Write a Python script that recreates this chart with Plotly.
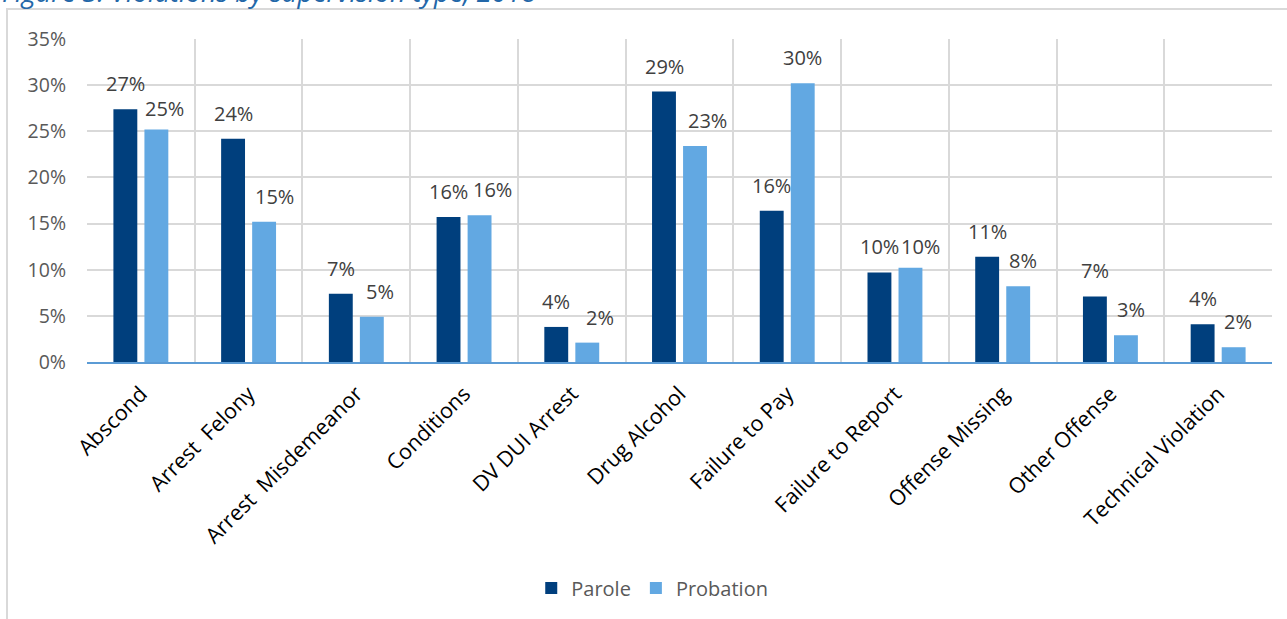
import plotly.graph_objects as go

# Violations by supervision type, share of each group's violations
categories = [
    "Abscond", "Arrest  Felony", "Arrest  Misdemeanor", "Conditions",
    "DV DUI Arrest", "Drug Alcohol", "Failure to Pay", "Failure to Report",
    "Offense Missing", "Other Offense", "Technical Violation",
]
parole = [0.274, 0.242, 0.074, 0.157, 0.038, 0.293, 0.164, 0.097, 0.114, 0.071, 0.041]
probation = [0.252, 0.152, 0.049, 0.159, 0.021, 0.234, 0.302, 0.102, 0.082, 0.029, 0.016]

PAROLE_COLOR = "#003F7D"
PROBATION_COLOR = "#62A8E2"
FONT = "Open Sans"

fig = go.Figure()
fig.add_trace(go.Bar(name="Parole", x=categories, y=parole,
                     marker=dict(color=PAROLE_COLOR, line=dict(width=0))))
fig.add_trace(go.Bar(name="Probation", x=categories, y=probation,
                     marker=dict(color=PROBATION_COLOR, line=dict(width=0))))

# Value labels above each bar; probation labels are nudged right (and a
# couple down) so that neighbouring labels stay readable.
SLOT = 15.3
probation_nudge_x = [8, 11, 8, 13, 13, 13, 0, 10, 5, 5, 5]
probation_nudge_y = [-5, 0, 0, 0, 0, 0, 0, -4, 0, 0, 0]
for i, cat in enumerate(categories):
    fig.add_annotation(
        x=cat, y=parole[i], xref="x", yref="y",
        text=f"{parole[i]:.0%}", showarrow=False,
        xanchor="center", yanchor="bottom",
        xshift=-SLOT, yshift=10,
        font=dict(family=FONT, size=20, color="#404040"),
    )
    fig.add_annotation(
        x=cat, y=probation[i], xref="x", yref="y",
        text=f"{probation[i]:.0%}", showarrow=False,
        xanchor="center", yanchor="bottom",
        xshift=SLOT + probation_nudge_x[i], yshift=10 + probation_nudge_y[i],
        font=dict(family=FONT, size=20, color="#404040"),
    )

# Figure caption, partly above the top edge
fig.add_annotation(
    x=-0.0734, y=1.084, xref="paper", yref="paper",
    text="<i>Figure 3: Violations by supervision type, 2018</i>",
    showarrow=False, xanchor="left", yanchor="bottom",
    font=dict(family=FONT, size=27, color="#2367A8"),
)

# Chart frame
fig.add_shape(
    type="rect", xref="paper", yref="paper",
    x0=-0.0675, x1=1.05, y0=-0.95, y1=1.0929,
    line=dict(color="#D9D9D9", width=2), fillcolor="rgba(0,0,0,0)", layer="below",
)

fig.update_layout(
    width=1287, height=619,
    margin=dict(l=87, r=15, t=39, b=257),
    paper_bgcolor="white", plot_bgcolor="white",
    barmode="group", bargap=0.424, bargroupgap=0.23,
    font=dict(family=FONT, color="#595959"),
    showlegend=True,
    legend=dict(
        orientation="h", x=0.477, y=-0.70, xanchor="center", yanchor="middle",
        font=dict(family=FONT, size=20, color="#595959"),
        itemwidth=30, tracegroupgap=0,
    ),
    xaxis=dict(
        type="category", tickson="boundaries",
        showgrid=True, gridcolor="#D9D9D9", gridwidth=1.5,
        showline=True, linecolor="#5B9BD5", linewidth=1.5,
        ticks="", tickangle=-45, ticklabelstandoff=9,
        tickfont=dict(family=FONT, size=21.5, color="#000000"),
        fixedrange=True,
    ),
    yaxis=dict(
        range=[0, 0.35], dtick=0.05, tickformat=".0%",
        showgrid=True, gridcolor="#D9D9D9", gridwidth=1.5,
        zeroline=False, showline=False, ticks="",
        ticklabelstandoff=20,
        tickfont=dict(family=FONT, size=19.5, color="#595959"),
        fixedrange=True,
    ),
)

fig.write_html("out.html")
